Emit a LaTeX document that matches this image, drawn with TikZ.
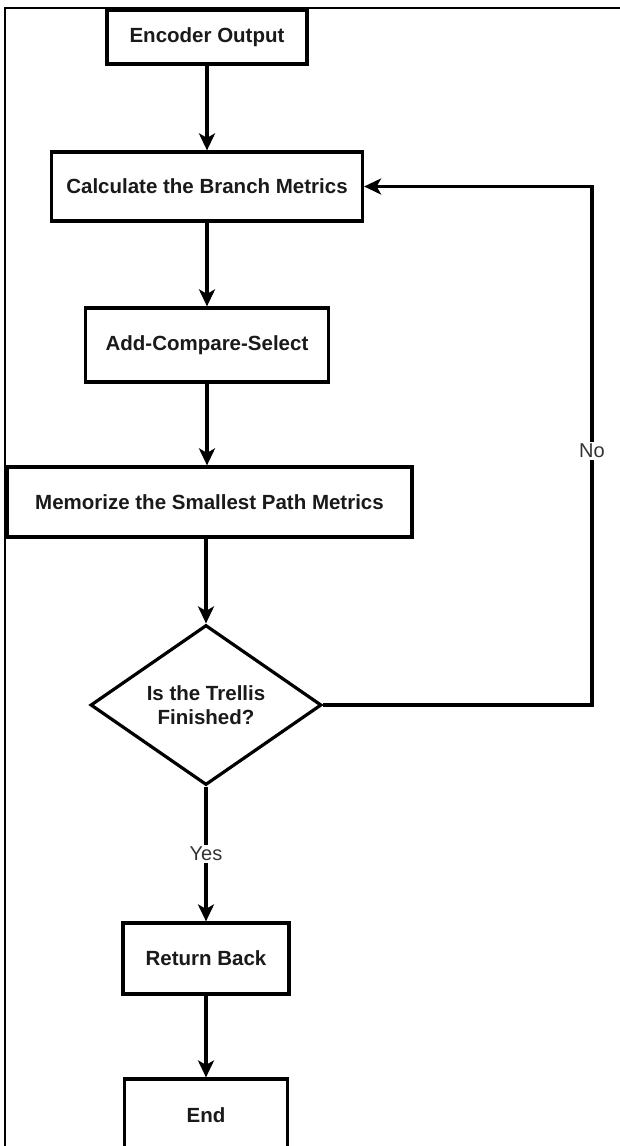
\documentclass[tikz,border=0pt]{standalone}
\usepackage{fontspec}
\setmainfont{Liberation Sans}
\usetikzlibrary{arrows.meta,shapes.geometric}

\definecolor{ink}{HTML}{1A1A1A}
\definecolor{labelink}{HTML}{333333}

\tikzset{
  box/.style={draw=black, line width=3.2pt, fill=white, text=ink,
    font=\fontsize{20.5}{24}\selectfont\bfseries, inner sep=0pt, align=center},
  decision/.style={box, diamond, aspect=1.45},
  flow/.style={draw=black, line width=3.2pt,
    -{Stealth[length=17pt,width=16pt,inset=4.5pt]}},
  edgelabel/.style={fill=white, text=labelink, inner sep=2pt,
    font=\fontsize{20}{24}\selectfont},
  frame/.style={draw=black, line width=1.3pt}
}

\begin{document}
\begin{tikzpicture}[x=1pt, y=-1pt]
  \useasboundingbox (0,0) rectangle (620,1146);

  % outer frame (top and left edges)
  \draw[frame] (5,1146) -- (5,8) -- (620,8);

  % process steps, stacked on one vertical axis
  \node[box, minimum width=200pt, minimum height=54pt] (enc) at (207,37) {Encoder Output};
  \node[box, minimum width=311pt, minimum height=69pt] (calc) at (207,186.5) {Calculate the Branch Metrics};
  \node[box, minimum width=243pt, minimum height=74pt] (acs) at (207,345) {Add-Compare-Select};
  \node[box, minimum width=405pt, minimum height=70pt] (mem) at (209.5,502) {Memorize the Smallest Path Metrics};
  \node[decision, minimum width=231pt, minimum height=160pt] (dec) at (206,705) {Is the Trellis\\Finished?};
  \node[box, minimum width=166pt, minimum height=71pt] (ret) at (206,958.5) {Return Back};
  \node[box, minimum width=163pt, minimum height=72pt] (fin) at (206,1115) {End};

  % loop-back column
  \coordinate (loopx) at (592,0);

  % connectors (kept vertical on the main axis)
  \draw[flow] (enc) -- (calc);
  \draw[flow] (calc) -- (acs);
  \draw[flow] (acs.south) -- (acs.south |- mem.north);
  \draw[flow] (dec.north |- mem.south) -- (dec.north);
  \draw[flow] (dec) -- node[edgelabel] {Yes} (ret);
  \draw[flow] (ret) -- (fin);
  \draw[flow] (dec.east) -- (dec.east -| loopx)
    -- node[edgelabel, pos=0.49] {No} (calc.east -| loopx) -- (calc.east);
\end{tikzpicture}
\end{document}
